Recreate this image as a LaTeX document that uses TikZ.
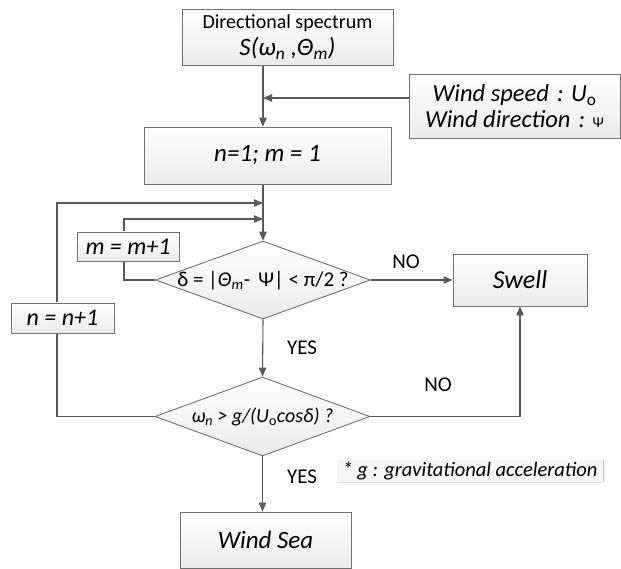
\documentclass[tikz,border=0pt]{standalone}
\usepackage{fontspec}
\setmainfont{Carlito}
\usetikzlibrary{shapes.geometric,arrows.meta,backgrounds}
\definecolor{linec}{HTML}{595959}
\definecolor{borderc}{HTML}{707070}
\begin{document}
\begin{tikzpicture}[x=1pt,y=-1pt,
  box/.style={draw=borderc,line width=0.9pt,top color=white,bottom color=gray!16,inner sep=0pt,align=center},
  dia/.style={diamond,draw=borderc,line width=0.9pt,top color=white,bottom color=gray!16,inner sep=0pt},
  arr/.style={draw=linec,line width=1.1pt,-{Triangle[length=9pt,width=7.5pt]}},
  lbl/.style={font=\fontsize{21}{24}\selectfont,inner sep=0pt}]
\useasboundingbox (0,0) rectangle (621,569);
% boxes
\node[box,minimum width=211,minimum height=56,font=\fontsize{20}{27}\selectfont] (top) at (287.5,37)
  {Directional spectrum\\{\fontsize{25}{27}\selectfont\itshape S(ω\textsubscript{n} ,Θ\textsubscript{m})}};
\node[box,minimum width=211,minimum height=64,font=\fontsize{24.5}{26}\selectfont\itshape] (wind) at (514.5,106)
  {Wind speed\,\,: U\textsubscript{\upshape o}\\Wind direction\,\,: {\upshape\fontsize{15}{15}\selectfont Ψ}};
\node[box,minimum width=247,minimum height=57,font=\fontsize{25}{28}\selectfont\itshape] (init) at (267.5,155.5)
  {n=1; m = 1};
\node[dia,minimum width=215,minimum height=78] (d1) at (263,280) {};
\node[font=\fontsize{21}{24}\selectfont,inner sep=0pt] (d1t) at (263,281)
  {δ = |{\itshape Θ\textsubscript{m}}- \,Ψ| < π/2 ?};
\node[dia,minimum width=215,minimum height=79] (d2) at (262.5,416.5) {};
\node[font=\fontsize{20}{24}\selectfont\itshape,inner sep=0pt] (d2t) at (262.5,417)
  {ω\textsubscript{n} > g/(U\textsubscript{\upshape o}cosδ) ?};
\node[box,minimum width=134,minimum height=52,font=\fontsize{26}{30}\selectfont\itshape] (swell) at (520,280) {Swell};
\node[box,minimum width=171,minimum height=56,font=\fontsize{25}{28}\selectfont\itshape] (winds) at (265.5,540) {Wind Sea};
\node[box,minimum width=102,minimum height=29,font=\fontsize{24}{26}\selectfont\itshape] (mbox) at (128,246.5) {m = m+1};
\node[box,minimum width=103,minimum height=30,font=\fontsize{24}{26}\selectfont\itshape] (nbox) at (62.5,318) {n = n+1};
% footnote
\node[fill=gray!7,minimum width=266,minimum height=22,inner sep=0pt,font=\fontsize{20.5}{22}\selectfont\itshape] (note) at (470,471)
  {* g : gravitational acceleration};
\draw[gray!45,line width=0.8pt] (note.north east) -- (note.south east);
\draw[gray!25,line width=0.6pt] (note.south west) -- (note.south east);
% labels
\node[lbl] (no1) at (406,262) {NO};
\node[lbl] (yes1) at (302,348) {YES};
\node[lbl] (no2) at (438,385) {NO};
\node[lbl] (yes2) at (302,477) {YES};
% loop corner coordinates
\coordinate (o1) at (57,416.5);
\coordinate (o2) at (57,203);
\coordinate (i1) at (124,280);
\coordinate (i2) at (124,219);
\begin{scope}[on background layer]
\draw[arr] (top.south -| d1.north) -- (init.north -| d1.north);
\draw[arr] ([yshift=8pt]wind.west) -- ([yshift=8pt]wind.west -| d1.north);
\draw[arr] (init.south -| d1.north) -- (d1.north);
\draw[arr] (d2.west) -- (o1) -- (o2) -- (o2 -| d1.north);
\draw[arr] (d1.west) -- (i1) -- (i2) -- (i2 -| d1.north);
\draw[arr] (d1.east) -- (swell.west);
\draw[arr] (d1.south) -- (d2.north);
\draw[arr] (d2.east) -- (d2.east -| swell.south) -- (swell.south);
\draw[arr] (d2.south) -- (winds.north -| d2.south);
\end{scope}
\end{tikzpicture}
\end{document}
